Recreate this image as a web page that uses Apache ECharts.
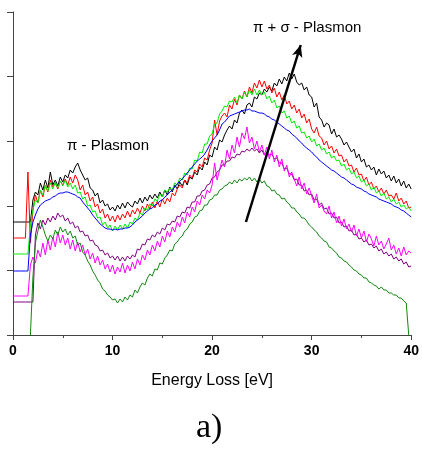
<!DOCTYPE html>
<html>
<head>
<meta charset="utf-8">
<script src="https://cdn.jsdelivr.net/npm/echarts@6/dist/echarts.min.js"></script>
<style>
html,body{margin:0;padding:0;background:#fff;}
#c{width:422px;height:450px;}
</style>
</head>
<body>
<div id="c"></div>
<script>
// Energy grid (eV), sampled every 0.25 eV from 0 to 40
const energy = Array.from({length:161}, (_, i) => i * 0.25);
const xTicks = [0, 10, 20, 30, 40];

// Intensities (arbitrary units)
const black = [
113,113,113,113, 113,113,113,113, 135,143,140,152, 145,155,147,163,
150,155,149,158, 153,160,157,165, 162,168,172,165, 160,155,157,147,
145,139,142,132, 135,129,131,125, 128,124,130,126, 132,127,133,130,
128,134,131,137, 132,138,134,140, 136,141,137,143, 138,145,140,148,
143,150,146,153, 149,155,150,158, 156,163,160,168, 165,173,170,180,
178,188,185,195, 193,200,205,209, 206,215,212,222, 225,221,230,232,
228,238,236,242, 240,246,243,248, 244,252,249,256, 251,258,254,262,
256,261,253,250, 252,245,248,240, 238,228,232,218, 215,208,212,210,
201,206,198,200, 196,190,193,188, 183,186,177,181, 173,176,168,170,
165,168,160,166, 161,164,157,160, 154,159,152,156, 149,154,147,151,
146];
const red = [
97,97,97,97, 97,97,163,92, 125,140,132,145, 138,150,143,155,
148,152,146,154, 150,156,150,158, 152,160,155,145, 150,140,143,134,
138,128,131,122, 126,117,121,114, 119,113,120,115, 121,117,124,118,
125,121,127,122, 129,124,131,126, 133,127,134,128, 136,131,137,133,
142,139,146,150, 147,155,152,160, 157,165,163,171, 168,177,175,185,
192,215,200,214, 219,222,218,230, 226,236,230,240, 236,244,238,248,
242,252,247,255, 248,254,246,250, 242,247,238,243, 235,240,231,234,
226,230,222,226, 217,221,212,216, 206,202,208,199, 197,190,194,186,
189,182,186,179, 180,173,176,169, 170,163,167,160, 161,154,158,150,
153,146,149,143, 147,141,145,139, 140,136,142,134, 137,131,134,127,
128];
const green = [
81,81,81,81, 81,81,81,110, 125,135,132,145, 140,150,144,152,
146,153,147,154, 149,155,148,152, 146,150,142,143, 136,138,129,130,
123,124,117,118, 110,113,107,110, 104,109,105,110, 106,111,107,113,
111,117,115,122, 120,127,125,131, 129,136,134,141, 138,145,143,147,
145,152,150,157, 155,162,160,167, 166,175,174,183, 182,191,191,199,
201,211,212,221, 224,229,228,234, 233,238,232,240, 236,243,238,245,
240,246,240,245, 240,243,236,239, 232,235,227,229, 222,224,217,219,
212,214,207,209, 202,203,197,199, 193,196,189,191, 185,187,181,183,
177,179,174,175, 169,171,165,167, 161,163,157,159, 153,155,149,151,
145,148,142,144, 139,142,136,138, 133,136,131,133, 128,130,126,128,
124];
const blue = [
64,64,64,64, 64,64,64,100, 113,120,126,130, 132,134,135,136,
138,139,141,142, 142,143,143,142, 141,140,138,137, 133,130,127,124,
120,117,114,111, 109,107,106,106, 105,106,105,106, 106,107,107,108,
110,113,115,117, 119,122,124,126, 127,130,131,134, 135,138,140,143,
145,148,151,154, 156,159,162,165, 168,171,174,176, 178,181,185,190,
194,197,200,205, 211,213,216,219, 220,221,222,223, 224,225,225,226,
224,224,223,222, 222,221,219,218, 216,215,213,211, 209,207,205,204,
201,199,197,194, 192,189,187,185, 183,180,178,175, 173,171,169,167,
165,164,162,160, 158,157,155,153, 151,150,148,147, 146,144,143,141,
140,139,138,136, 135,134,133,132, 131,129,128,127, 125,124,122,120,
118];
const purple = [
33,33,33,33, 33,33,33,33, 33,100,112,106, 115,110,117,113,
119,115,122,118, 120,114,117,111, 113,107,109,103, 104,99,100,94,
95,90,89,84, 85,80,82,77, 79,75,79,74, 78,74,79,76,
80,78,86,85, 91,90,96,95, 100,98,103,101, 107,105,111,110,
114,113,119,118, 123,122,128,127, 133,133,139,139, 144,145,150,151,
157,158,163,165, 170,170,174,174, 178,177,181,180, 184,183,186,184,
187,184,186,182, 185,180,182,180, 181,176,177,172, 172,166,167,161,
161,155,156,150, 150,144,145,140, 141,135,136,130, 132,126,127,121,
122,117,118,112, 113,108,109,104, 105,100,101,96, 97,93,95,90,
91,87,89,84, 86,81,83,79, 81,76,78,74, 76,71,73,68,
69];
const magenta = [
39,39,39,39, 39,39,39,70, 78,72,85,78, 92,80,95,85,
98,88,103,92, 100,90,97,86, 95,84,93,83, 90,80,86,76,
82,72,79,70, 75,66,71,63, 70,61,68,63, 72,62,70,64,
73,66,76,70, 80,75,85,80, 90,84,94,88, 99,93,104,98,
108,103,113,108, 118,112,123,118, 128,123,134,130, 140,136,145,142,
150,172,155,165, 175,168,185,176, 190,182,198,188, 202,196,208,192,
198,186,194,183, 190,180,188,176, 185,173,180,168, 176,164,170,158,
163,156,149,158, 146,152,141,147, 139,132,141,127, 130,124,121,129,
117,123,112,119, 109,116,106,111, 103,110,99,106, 97,104,93,101,
96,89,99,90, 94,86,91,97, 85,90,81,87, 79,88,80,84,
82];
const darkGreen = [
null,null,null,null, null,null,null,0, 58,92,104,115, 108,100,94,100,
96,105,100,108, 103,106,100,104, 97,99,90,92, 83,80,74,70,
64,60,55,52, 46,44,40,38, 35,36,32,36, 33,38,35,40,
38,45,42,48, 52,50,57,61, 59,66,65,72, 71,77,80,85,
84,91,93,97, 99,104,106,111, 113,118,119,124, 125,130,130,135,
136,140,140,145, 146,149,150,153, 151,155,152,156, 154,157,155,158,
154,157,153,156, 152,154,149,148, 144,145,141,140, 136,137,133,131,
127,127,123,121, 117,117,114,110, 108,105,103,99, 97,94,93,88,
87,84,82,78, 77,74,73,70, 68,65,64,61, 60,57,57,53,
52,50,49,46, 48,45,45,42, 42,40,40,37, 37,34,32,0,
null];

// Arrow annotation (eV, intensity)
const arrowFrom = [23.4, 113];
const arrowTo = [28.9, 290];

const seriesDefs = [
  {name:'black', data: black, color:'#000000'},
  {name:'red', data: red, color:'#ff0000'},
  {name:'green', data: green, color:'#00ee00'},
  {name:'blue', data: blue, color:'#0000ff'},
  {name:'purple', data: purple, color:'#800080'},
  {name:'magenta', data: magenta, color:'#ff00ff'},
  {name:'darkgreen', data: darkGreen, color:'#118811'}
];

const chart = echarts.init(document.getElementById('c'), null, {renderer:'canvas'});
const series = seriesDefs.map(s => ({
  name: s.name,
  type: 'line',
  data: energy.map((x, i) => [x, s.data[i]]),
  showSymbol: false,
  connectNulls: false,
  lineStyle: {color: s.color, width: 1},
  itemStyle: {color: s.color},
  z: 2
}));
series.push({
  type: 'line',
  data: [],
  markLine: {
    silent: true,
    symbol: ['none', 'arrow'],
    symbolSize: [8, 12],
    label: {show: false},
    lineStyle: {color: '#000', width: 2.5, type: 'solid'},
    data: [[{coord: arrowFrom}, {coord: arrowTo}]]
  },
  z: 5
});

chart.setOption({
  animation: false,
  backgroundColor: '#fff',
  grid: {left: 13, right: 9, top: 12, bottom: 115, containLabel: false},
  xAxis: {
    type: 'value', min: 0, max: 40, interval: 10,
    axisLine: {show: true, onZero: false, lineStyle: {color: '#444', width: 1}},
    axisTick: {show: true, inside: false, length: 5, lineStyle: {color: '#444'}},
    minorTick: {show: true, splitNumber: 2, length: 3, lineStyle: {color: '#444'}},
    splitLine: {show: false},
    axisLabel: {
      color: '#000', fontSize: 14, fontWeight: 'bold', fontFamily: 'Arial, Liberation Sans, sans-serif',
      margin: 9, formatter: v => xTicks.includes(v) ? String(v) : ''
    },
    name: 'Energy Loss [eV]', nameLocation: 'middle', nameGap: 38,
    nameTextStyle: {color: '#000', fontSize: 16, fontFamily: 'Arial, Liberation Sans, sans-serif'}
  },
  yAxis: {
    type: 'value', min: 0, max: 323, interval: 64.6,
    axisLine: {show: true, lineStyle: {color: '#444', width: 1}},
    axisTick: {show: true, inside: false, length: 6, lineStyle: {color: '#444'}},
    axisLabel: {show: false},
    splitLine: {show: false}
  },
  series: series,
  graphic: [
    {type: 'text', left: 67, top: 138, style: {text: 'π - Plasmon', font: '15px Arial, Liberation Sans, sans-serif', fill: '#000'}},
    {type: 'text', left: 253, top: 20, style: {text: 'π + σ - Plasmon', font: '15px Arial, Liberation Sans, sans-serif', fill: '#000'}},
    {type: 'text', left: 196, top: 411, style: {text: 'a)', font: '34px "Liberation Serif", "Times New Roman", serif', fill: '#000'}}
  ]
});
</script>
</body>
</html>
